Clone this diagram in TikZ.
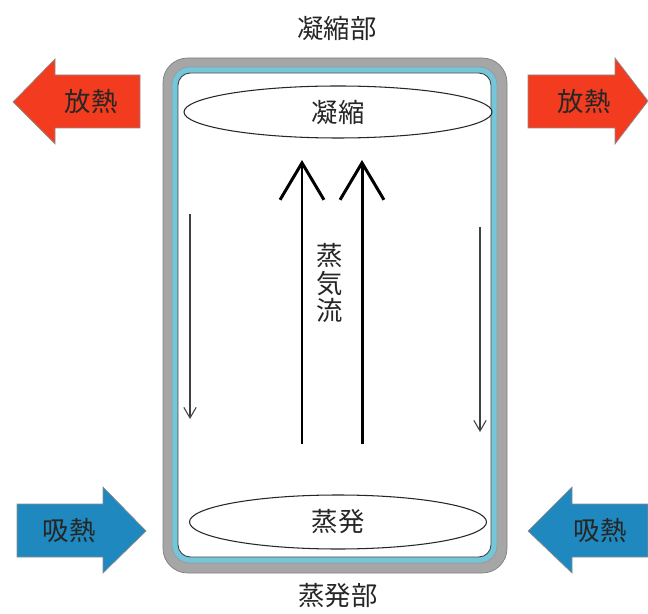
\documentclass[tikz,border=0pt]{standalone}
\usepackage{fontspec}
\newfontfamily\jp{Noto Sans CJK JP}
\usetikzlibrary{arrows.meta,shapes.geometric}
\definecolor{heatred}{HTML}{F23B1F}
\definecolor{heatblue}{HTML}{1F88BF}
\definecolor{pipegray}{HTML}{A6A6A6}
\definecolor{wickblue}{HTML}{74C7DB}
\tikzset{
	jptext/.style={font=\jp\fontsize{15}{17}\selectfont, text=black!85, inner sep=0pt},
	hotarrow/.style={fill=heatred, draw=black!45, line width=0.4pt},
	coldarrow/.style={fill=heatblue, draw=black!45, line width=0.4pt},
	zone/.style={ellipse, draw=black!85, line width=0.6pt, fill=white, inner sep=0pt},
	vapour/.style={line width=1.7pt, -{Straight Barb[length=21pt, width=25pt, line width=1.7pt]}},
	drip/.style={draw=black!75, line width=0.6pt, -{Straight Barb[length=6pt, width=7pt]}}
}
\begin{document}
\begin{tikzpicture}[x=0.02cm, y=-0.02cm]
			%%%%% START %%%%%
			\useasboundingbox (0, 0) rectangle (648, 614);
			
			% container wall, wick, vapour space
			\draw[fill=pipegray, draw=black!50, rounded corners=14] (163, 58) rectangle (507, 573);
			\draw[fill=wickblue, draw=black!40, rounded corners=10] (172, 67) rectangle (497, 563);
			\draw[fill=white, draw=black!75, line width=0.5pt, rounded corners=7] (178, 73) rectangle (491, 557);
			
			\node[jptext] (condTitle) at (337, 28) {凝縮部};
			\node[jptext] (evapTitle) at (338, 596) {蒸発部};
			
			\node[zone, minimum width=308*0.02cm, minimum height=52*0.02cm] (cond) at (338, 112) {};
			\node[jptext] (condText) at (cond) {凝縮};
			\node[zone, minimum width=297*0.02cm, minimum height=54*0.02cm] (evap) at (338, 522) {};
			\node[jptext] (evapText) at (evap) {蒸発};
			
			% heat out
			\draw[hotarrow] (140, 75) -- (55, 75) -- (55, 59) -- (13, 102) -- (55, 144) -- (55, 128) -- (140, 128) -- cycle;
			\node[jptext] (outL) at (91, 102) {放熱};
			\draw[hotarrow] (528, 75) -- (615, 75) -- (615, 58) -- (648, 101) -- (615, 144) -- (615, 128) -- (528, 128) -- cycle;
			\node[jptext] (outR) at (584, 102) {放熱};
			
			% heat in
			\draw[coldarrow] (17, 504) -- (103, 504) -- (103, 487) -- (146, 531) -- (103, 573) -- (103, 557) -- (17, 557) -- cycle;
			\node[jptext] (inL) at (69, 531) {吸熱};
			\draw[coldarrow] (648, 504) -- (572, 504) -- (572, 487) -- (528, 531) -- (572, 573) -- (572, 557) -- (648, 557) -- cycle;
			\node[jptext] (inR) at (600, 531) {吸熱};
			
			% vapour flow
			\coordinate (vapA0) at (302, 444);
			\coordinate (vapA1) at (302, 160);
			\coordinate (vapB0) at (362, 444);
			\coordinate (vapB1) at (362, 160);
			\draw[vapour] (vapA0) -- (vapA1);
			\draw[vapour] (vapB0) -- (vapB1);
			\node[jptext, align=center, font=\jp\fontsize{15}{15.5}\selectfont] (flowText) at (330, 283) {蒸\\気\\流};
			
			% liquid return
			\coordinate (dripA0) at (190, 214);
			\coordinate (dripA1) at (190, 419);
			\coordinate (dripB0) at (480, 227);
			\coordinate (dripB1) at (480, 432);
			\draw[drip] (dripA0) -- (dripA1);
			\draw[drip] (dripB0) -- (dripB1);
			%%%%% END %%%%%
\end{tikzpicture}
\end{document}
